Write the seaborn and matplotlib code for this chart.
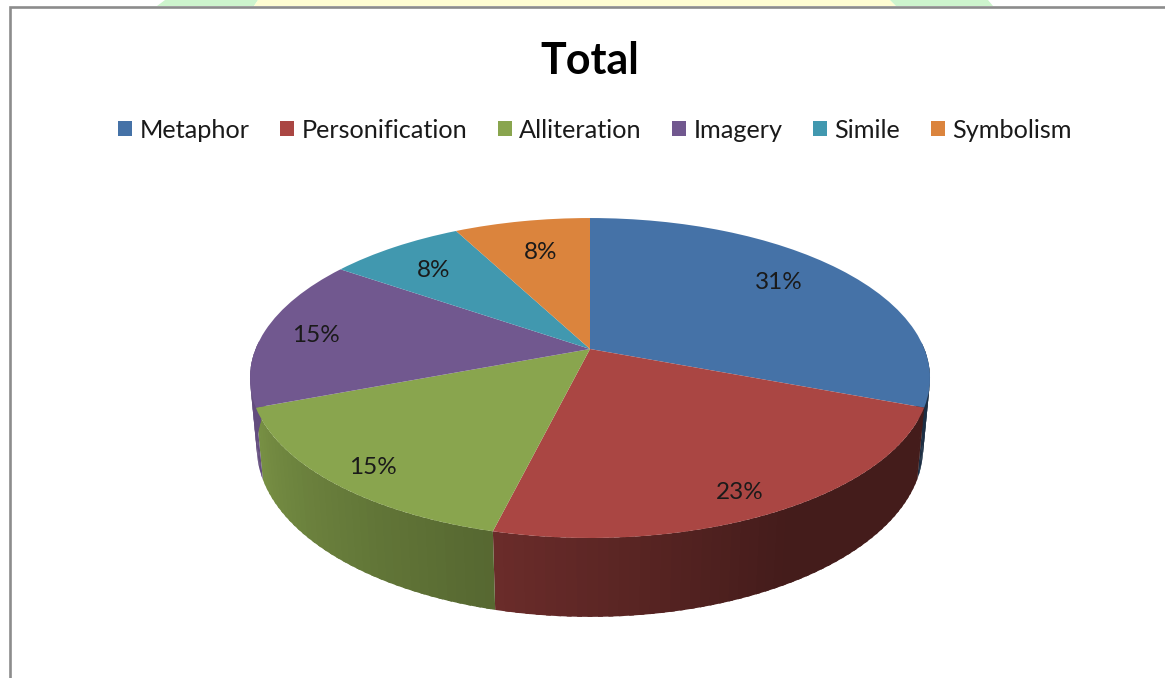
import numpy as np
import matplotlib
matplotlib.use('Agg')
import matplotlib.pyplot as plt
import seaborn as sns
from matplotlib.transforms import Transform

categories = ['Metaphor', 'Personification', 'Alliteration', 'Imagery', 'Simile', 'Symbolism']
values = [4, 3, 2, 2, 1, 1]
slice_colors = ['#4572A7', '#AA4643', '#89A54E', '#71588F', '#4198AF', '#DB843D']

W, H = 1165, 678

# perspective of the pie, fitted on the picture in pixels
CX, CY = 590, 349
A, B, K = 334.4, 154.7, 0.18125
DEPTH, DEPTH_W = 70, 0.02


def project(x, y, z=0.0):
    w = 1 + K * y + DEPTH_W * z
    return CX + A * x / w, CY + (-B * y + DEPTH * z) / w


class PieProjection(Transform):
    input_dims = 2
    output_dims = 2

    def transform_non_affine(self, xy):
        xy = np.asarray(xy, dtype=float)
        px, py = project(xy[:, 0], xy[:, 1])
        return np.column_stack([px, py])


def wall_shade(theta):
    # theta in degrees, clockwise from the top of the pie
    return np.interp(theta, [0, 150, 194, 250, 360], [0.40, 0.40, 0.63, 0.88, 0.88])


sns.set_theme(style='white')
plt.rcParams['font.family'] = ['Lato', 'DejaVu Sans']
palette = sns.color_palette(slice_colors)

fig = plt.figure(figsize=(W / 100, H / 100), dpi=100)
ax = fig.add_axes([0, 0, 1, 1])

wedges, _, autotexts = ax.pie(values, colors=palette, startangle=90, counterclock=False,
                              autopct='%1.0f%%', pctdistance=0.8,
                              wedgeprops={'linewidth': 0, 'zorder': 5},
                              textprops={'fontsize': 17.5, 'color': '#1a1a1a', 'zorder': 6})
ax.set_aspect('auto')
ax.set_xlim(0, W)
ax.set_ylim(H, 0)
ax.axis('off')

proj = PieProjection() + ax.transData

# side walls, only the front part shows, each strip overlaps the next one
for wedge, color in zip(wedges, palette):
    angles = np.arange(wedge.theta1, wedge.theta2, 1.5)
    for a0 in angles:
        a1 = min(a0 + 2.2, wedge.theta2)
        t0, t1 = np.radians([a0, a1])
        x0, y0 = np.cos(t0), np.sin(t0)
        x1, y1 = np.cos(t1), np.sin(t1)
        if min(y0, y1) > 0.02:
            continue
        shade = wall_shade((90 - (a0 + a1) / 2) % 360)
        c = tuple(np.array(color) * shade)
        px = [project(x0, y0)[0], project(x1, y1)[0], project(x1, y1, 1)[0], project(x0, y0, 1)[0]]
        py = [project(x0, y0)[1], project(x1, y1)[1], project(x1, y1, 1)[1], project(x0, y0, 1)[1]]
        ax.fill(px, py, color=c, lw=0, zorder=2)

# top face
for wedge in wedges:
    wedge.set_transform(proj)

# percent labels, pixel nudges from the projected slice position
nudges = [(-15, -2), (7, 18), (-18, 15), (-13, 1), (4, 5), (7, 9)]
for wedge, label, (dx, dy) in zip(wedges, autotexts, nudges):
    mid = np.radians((wedge.theta1 + wedge.theta2) / 2)
    lx, ly = project(0.8 * np.cos(mid), 0.8 * np.sin(mid))
    label.set_position((lx + dx, ly + dy))
    label.set_ha('center')
    label.set_va('center')

ax.text(590, 61, 'Total', fontsize=31, fontweight='bold', color='black', ha='center', va='center')

leg = ax.legend(wedges, categories, loc='center', bbox_to_anchor=(595 / W, 1 - 130 / H), ncol=6,
                frameon=False, fontsize=18.2, handlelength=0.55, handleheight=0.55,
                handletextpad=0.3, columnspacing=1.2, labelcolor='#1a1a1a')

# page background strip above the frame and the grey frame
ax.fill([165, 258, 254, 157], [0, 0, 6, 6], color='#CDF4CD', lw=0, zorder=1)
ax.fill([258, 890, 896, 254], [0, 0, 6, 6], color='#FFFDD2', lw=0, zorder=1)
ax.fill([890, 988, 993, 896], [0, 0, 6, 6], color='#CDF4CD', lw=0, zorder=1)
ax.plot([9.5, 9.5, W], [H, 6.5, 6.5], color='#8C8C8C', lw=1.9, zorder=3, solid_joinstyle='miter')

fig.savefig('out.png', dpi=100)
